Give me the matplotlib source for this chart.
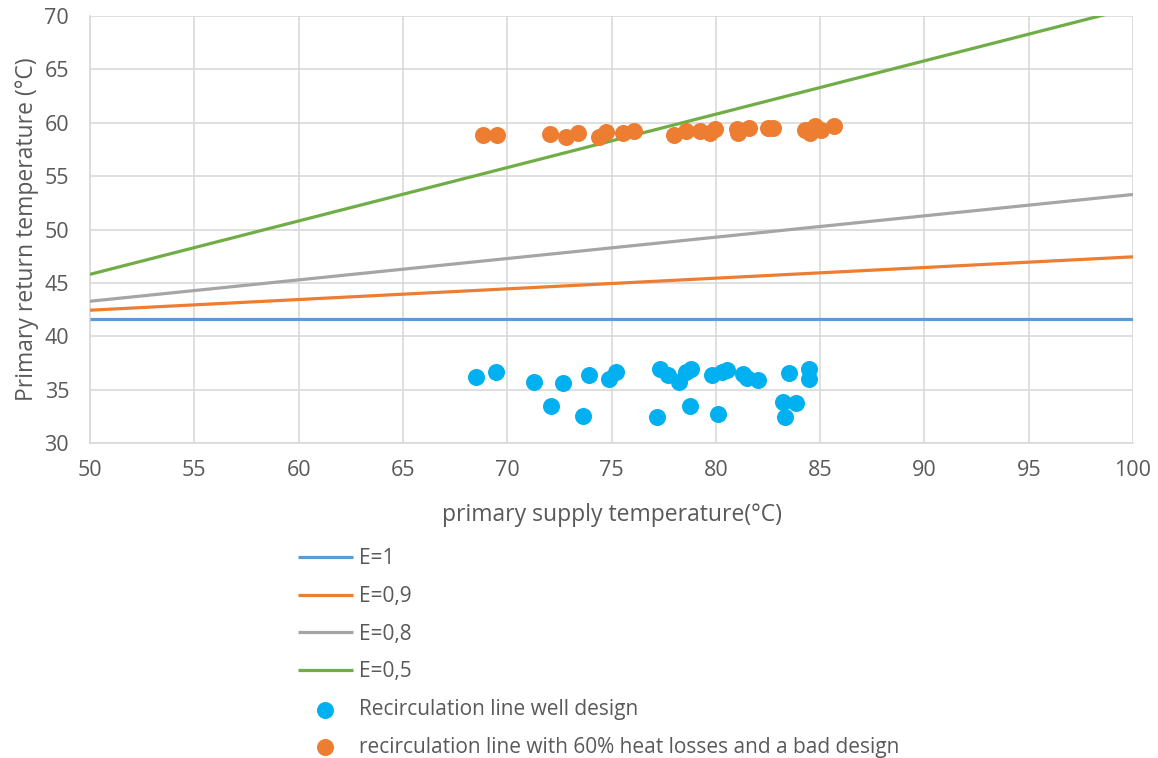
import matplotlib
matplotlib.use("Agg")
import matplotlib.pyplot as plt

plt.rcParams['font.family'] = ['Open Sans', 'DejaVu Sans']

# Efficiency lines: (supply at 50, supply at 100) -> return temperature
line_x = [50, 100]
e_labels = ["E=1", "E=0,9", "E=0,8", "E=0,5"]
e_values = [[41.6, 41.6], [42.44, 47.44], [43.28, 53.28], [45.8, 70.8]]
e_colors = ["#5B9BD5", "#ED7D31", "#A5A5A5", "#70AD47"]

# Recirculation line well design
well_x = [68.50, 69.46, 71.28, 72.10, 72.68, 73.63, 73.92, 74.88, 75.20, 77.17,
          77.34, 77.72, 78.25, 78.75, 78.56, 78.80, 79.82, 80.09, 80.28, 80.55,
          81.32, 81.51, 82.01, 83.24, 83.49, 83.86, 83.33, 84.45, 84.47]
well_y = [36.21, 36.62, 35.69, 33.47, 35.65, 32.50, 36.34, 36.02, 36.68, 32.46,
          36.90, 36.34, 35.69, 33.50, 36.68, 36.90, 36.34, 32.74, 36.68, 36.84,
          36.46, 36.12, 35.93, 33.87, 36.56, 33.72, 32.44, 36.96, 35.97]

# Recirculation line with 60% heat losses and a bad design
bad_x = [68.85, 69.50, 72.05, 72.82, 73.38, 74.42, 74.72, 75.57, 76.08, 78.01,
         78.56, 79.24, 79.72, 79.96, 81.00, 81.08, 81.61, 82.49, 82.76, 84.28,
         84.52, 84.76, 85.03, 85.67]
bad_y = [58.85, 58.85, 58.95, 58.69, 59.01, 58.69, 59.16, 59.01, 59.23, 58.88,
         59.26, 59.26, 59.01, 59.39, 59.39, 59.01, 59.48, 59.48, 59.48, 59.32,
         59.01, 59.70, 59.32, 59.70]

scatter_labels = ["Recirculation line well design",
                  "recirculation line with 60% heat losses and a bad design"]
scatter_colors = ["#00B0F0", "#ED7D31"]

xticks = list(range(50, 101, 5))
yticks = list(range(30, 71, 5))

txt = "#595959"
grid = "#D9D9D9"

fig = plt.figure(figsize=(11.58, 7.58), dpi=100)
ax = fig.add_axes([90/1158, 1-443/758, (1133-90)/1158, (443-16)/758])

for lab, vals, col in zip(e_labels, e_values, e_colors):
    ax.plot(line_x, vals, color=col, lw=2.3, label=lab, solid_capstyle='butt', zorder=3)

ax.scatter(well_x, well_y, s=150, color=scatter_colors[0], zorder=4, linewidths=0,
           label=scatter_labels[0])
ax.scatter(bad_x, bad_y, s=150, color=scatter_colors[1], zorder=4, linewidths=0,
           label=scatter_labels[1])

ax.set_xlim(50, 100)
ax.set_ylim(30, 70)
ax.set_xticks(xticks)
ax.set_yticks(yticks)
ax.grid(True, color=grid, lw=1.2, zorder=0)
ax.set_axisbelow(True)
for s in ["top", "right"]:
    ax.spines[s].set_visible(False)
for s in ["left", "bottom"]:
    ax.spines[s].set_color(grid)
    ax.spines[s].set_linewidth(1.2)
ax.tick_params(length=0, labelsize=15.5, colors=txt)
ax.tick_params(axis='x', pad=12)
ax.tick_params(axis='y', pad=15)
ax.set_xlabel("primary supply temperature(°C)", fontsize=16.5, color=txt, labelpad=16)
ax.set_ylabel("Primary return temperature (°C)", fontsize=16.5, color=txt, labelpad=4)

handles, labels = ax.get_legend_handles_labels()
leg = fig.legend(handles, labels, loc="upper left",
                 bbox_to_anchor=(290/1158, 1-540/758), frameon=False,
                 fontsize=15, handlelength=2.6, handletextpad=0.3,
                 labelspacing=0.8, labelcolor=txt, borderaxespad=0)

fig.savefig("out.png", dpi=100)
